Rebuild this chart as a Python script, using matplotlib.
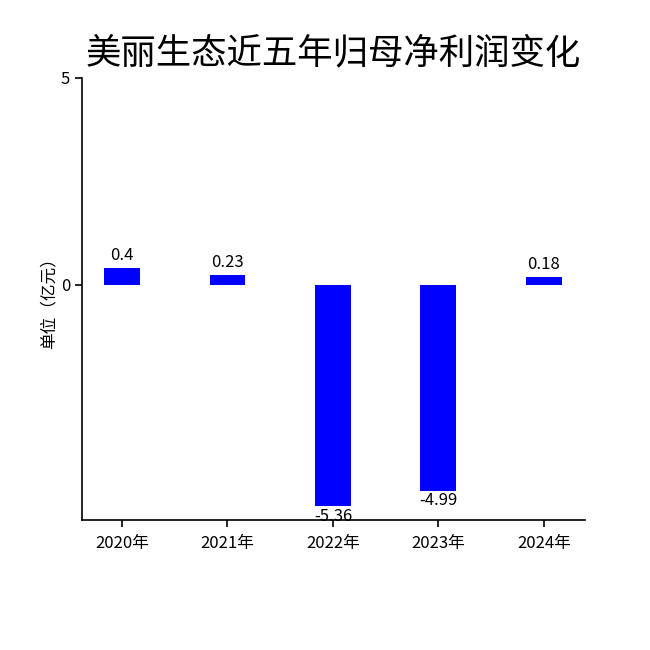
import matplotlib
matplotlib.use("Agg")
import matplotlib.pyplot as plt

plt.rcParams['font.family'] = ['Noto Sans CJK SC', 'DejaVu Sans']

years = ["2020年", "2021年", "2022年", "2023年", "2024年"]
profits = [0.4, 0.23, -5.36, -4.99, 0.18]
labels = ["0.4", "0.23", "-5.36", "-4.99", "0.18"]
yticks = [0, 5]

fig = plt.figure(figsize=(6.5, 6.5), dpi=100)
ax = fig.add_axes([0.126, 0.2, 0.774, 0.68])

x = list(range(len(years)))
bars = ax.bar(x, profits, width=0.34, color="#0000FF")
for xi, v, lab in zip(x, profits, labels):
    if v >= 0:
        ax.annotate(lab, (xi, v), xytext=(0, 3), textcoords="offset points",
                    ha="center", va="bottom", fontsize=12)
    else:
        ax.annotate(lab, (xi, v), xytext=(0, -1), textcoords="offset points",
                    ha="center", va="top", fontsize=12)

ax.set_xlim(-0.38, 4.39)
ax.set_ylim(-5.69, 5)
ax.set_xticks(x)
ax.set_xticklabels(years, fontsize=12)
ax.set_yticks(yticks)
ax.set_yticklabels([str(t) for t in yticks], fontsize=12)
ax.set_ylabel("单位（亿元）", fontsize=12, labelpad=2)
ax.spines["top"].set_visible(False)
ax.spines["right"].set_visible(False)
for s in ("left", "bottom"):
    ax.spines[s].set_linewidth(1.2)
ax.tick_params(length=5, width=1.2)
ax.tick_params(axis="x", pad=6)

fig.text(0.513, 0.918, "美丽生态近五年归母净利润变化", fontsize=25.5,
         ha="center", va="center")

fig.savefig("out.png", dpi=100)
